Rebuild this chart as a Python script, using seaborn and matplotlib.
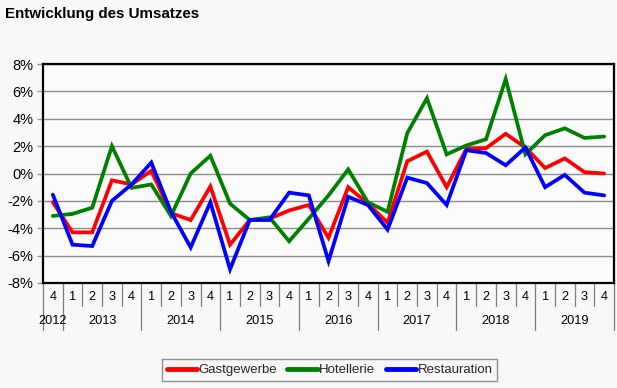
import matplotlib
matplotlib.use("Agg")
import matplotlib.pyplot as plt
import matplotlib.transforms as mtransforms
from matplotlib.ticker import FuncFormatter, MultipleLocator
import seaborn as sns
import pandas as pd

quarters = ["4"] + ["1", "2", "3", "4"] * 7
years = ["2012", "2013", "2014", "2015", "2016", "2017", "2018", "2019"]
year_quarter_counts = [1, 4, 4, 4, 4, 4, 4, 4]

gastgewerbe = [-2.1, -4.3, -4.3, -0.5, -0.8, 0.2, -2.9, -3.4, -0.95, -5.2, -3.4, -3.3, -2.7,
               -2.3, -4.7, -1.0, -2.2, -3.6, 0.9, 1.6, -1.0, 1.8, 1.85, 2.9, 1.9, 0.4, 1.1, 0.1, 0.0]
hotellerie = [-3.1, -2.95, -2.5, 2.0, -1.05, -0.8, -3.1, 0.0, 1.3, -2.2, -3.4, -3.2, -4.95,
              -3.3, -1.6, 0.3, -2.1, -2.8, 2.95, 5.5, 1.4, 2.05, 2.5, 6.9, 1.4, 2.8, 3.3, 2.6, 2.7]
restauration = [-1.55, -5.2, -5.3, -2.0, -0.8, 0.8, -2.8, -5.4, -2.1, -7.0, -3.4, -3.4, -1.4,
                -1.6, -6.4, -1.7, -2.3, -4.1, -0.3, -0.7, -2.3, 1.7, 1.5, 0.6, 1.9, -1.0, -0.1, -1.4, -1.6]

series_names = ["Gastgewerbe", "Hotellerie", "Restauration"]
series_colors = ["#ff0000", "#008000", "#0000ff"]

sns.set_theme(style="white")
plt.rcParams["font.family"] = ["Liberation Sans", "DejaVu Sans"]

rows = []
for name, vals in zip(series_names, [gastgewerbe, hotellerie, restauration]):
    for i, v in enumerate(vals):
        rows.append({"idx": i, "wert": v, "Reihe": name})
df = pd.DataFrame(rows)

bg = "#f8f8f8"
fig = plt.figure(figsize=(6.17, 3.88), dpi=100, facecolor=bg)
ax = fig.add_axes([43 / 617, 1 - 283 / 388, (614 - 43) / 617, (283 - 64) / 388])
ax.set_facecolor("#fbfbfb")

sns.lineplot(data=df, x="idx", y="wert", hue="Reihe", hue_order=series_names,
             palette=series_colors, linewidth=2.7, ax=ax, legend=True)
for ln in ax.get_lines():
    ln.set_solid_joinstyle("miter")

n = len(quarters)
ax.set_xlim(-0.5, n - 0.5)
ax.set_ylim(-8, 8)
ax.yaxis.set_major_locator(MultipleLocator(2))
ax.yaxis.set_major_formatter(FuncFormatter(lambda v, p: f"{int(round(v))}%"))
ax.grid(axis="y", color="#8c8c8c", linewidth=1.0)
ax.set_axisbelow(True)
for s in ax.spines.values():
    s.set_color("black")
    s.set_linewidth(1.6)
ax.tick_params(axis="y", which="major", left=True, length=4, width=1, color="#999999",
               labelsize=10.5, pad=3, labelcolor="black")
ax.set_xticks([])
ax.set_xlabel("")
ax.set_ylabel("")

trans = mtransforms.blended_transform_factory(ax.transData, ax.transAxes)
for i, q in enumerate(quarters):
    ax.text(i, -0.063, q, transform=trans, ha="center", va="center", fontsize=9.2, color="black")
year_starts = [0]
for c in year_quarter_counts:
    year_starts.append(year_starts[-1] + c)
for b in range(n + 1):
    x = b - 0.5
    if b in year_starts:
        ax.plot([x, x], [0, -0.215], transform=trans, color="#808080", linewidth=0.9, clip_on=False)
    else:
        ax.plot([x, x], [0, -0.105], transform=trans, color="#808080", linewidth=0.9, clip_on=False)
for y_lab, s0, c in zip(years, year_starts[:-1], year_quarter_counts):
    ax.text(s0 - 0.5 + c / 2, -0.175, y_lab, transform=trans, ha="center", va="center",
            fontsize=9.2, color="black")

fig.text(5 / 617, 1 - 14 / 388, "Entwicklung des Umsatzes", ha="left", va="center",
         fontsize=10.9, fontweight="bold", color="black")

handles, labels = ax.get_legend_handles_labels()
ax.get_legend().remove()
leg = fig.legend(handles, labels, loc="center", bbox_to_anchor=(329.5 / 617, 1 - 370 / 388),
                 ncol=3, frameon=True, fancybox=False, edgecolor="#777777", fontsize=9.5,
                 handlelength=2.3, handletextpad=0.1, columnspacing=0.8, borderpad=0.35,
                 facecolor=bg)
leg.get_frame().set_linewidth(1.0)
for h in leg.get_lines():
    h.set_linewidth(3.5)

fig.savefig("out.png", dpi=100, facecolor=bg)
